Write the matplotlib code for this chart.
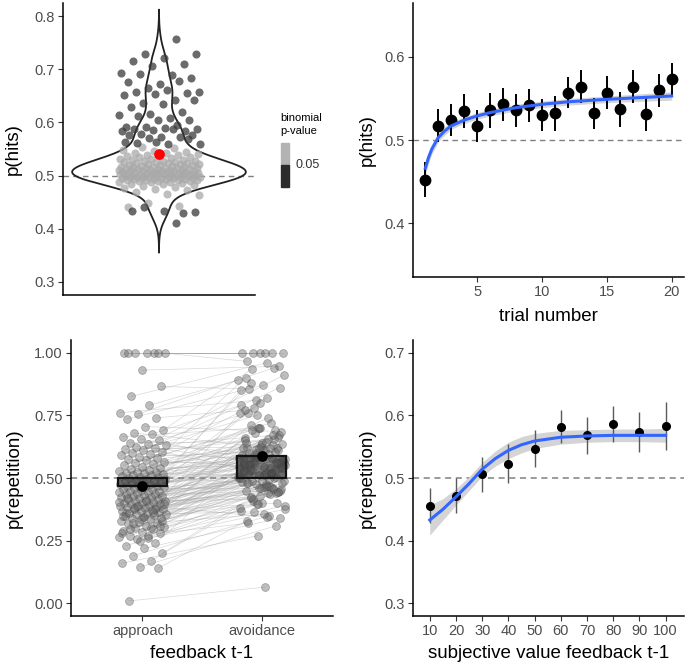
import matplotlib
matplotlib.use("Agg")
import matplotlib.pyplot as plt
import numpy as np
from matplotlib.patches import Rectangle

W, H = 685, 666
plt.rcParams['font.family'] = ['Liberation Sans', 'DejaVu Sans']

# --- top left: per-subject p(hits), split by binomial test ---
hits_sig = [0.757, 0.729, 0.729, 0.721, 0.716, 0.711, 0.707, 0.693, 0.690, 0.691,
            0.683, 0.673, 0.676, 0.679, 0.664, 0.658, 0.662, 0.657, 0.656, 0.653,
            0.651, 0.642, 0.636, 0.642, 0.634, 0.629, 0.620, 0.615, 0.614, 0.608,
            0.613, 0.604, 0.605, 0.592, 0.595, 0.592, 0.587, 0.590, 0.587, 0.584,
            0.586, 0.584, 0.588, 0.578, 0.577, 0.573, 0.577, 0.572, 0.570, 0.559,
            0.560, 0.562, 0.569, 0.564, 0.564, 0.411, 0.440, 0.431, 0.433, 0.433,
            0.430]
hits_ns = [0.441, 0.442, 0.448, 0.463, 0.466, 0.469, 0.472, 0.475, 0.477, 0.478, 0.481,
           0.482, 0.484, 0.485, 0.486, 0.487, 0.488, 0.488, 0.489, 0.490, 0.490,
           0.491, 0.491, 0.492, 0.492, 0.493, 0.493, 0.494, 0.494, 0.495, 0.495,
           0.495, 0.496, 0.496, 0.497, 0.497, 0.497, 0.498, 0.498, 0.498, 0.499,
           0.499, 0.500, 0.500, 0.500, 0.501, 0.501, 0.501, 0.502, 0.502, 0.502,
           0.503, 0.503, 0.503, 0.504, 0.504, 0.505, 0.505, 0.505, 0.506, 0.506,
           0.507, 0.507, 0.507, 0.508, 0.508, 0.509, 0.509, 0.510, 0.510, 0.510,
           0.511, 0.511, 0.512, 0.512, 0.513, 0.513, 0.514, 0.514, 0.515, 0.515,
           0.516, 0.516, 0.517, 0.517, 0.518, 0.518, 0.519, 0.520, 0.520, 0.521,
           0.521, 0.522, 0.523, 0.523, 0.524, 0.525, 0.525, 0.526, 0.527, 0.528,
           0.528, 0.529, 0.530, 0.531, 0.532, 0.533, 0.534, 0.535, 0.536, 0.537,
           0.538, 0.539, 0.540, 0.542, 0.543, 0.545, 0.547, 0.549, 0.551, 0.553]

# --- top right: p(hits) by trial ---
trial = list(range(1, 21))
trial_hits = [0.452, 0.517, 0.524, 0.535, 0.517, 0.536, 0.543, 0.536, 0.542, 0.530,
              0.532, 0.557, 0.564, 0.532, 0.557, 0.537, 0.564, 0.531, 0.560, 0.573]
trial_se = [0.021, 0.020, 0.019, 0.020, 0.019, 0.021, 0.020, 0.020, 0.020, 0.019,
            0.021, 0.019, 0.020, 0.019, 0.020, 0.021, 0.020, 0.020, 0.020, 0.020]
trial_fit_x = [1, 1.25, 1.5, 2, 2.5, 3, 4, 5, 6, 8, 10, 12, 15, 20]
trial_fit_y = [0.466, 0.479, 0.489, 0.503, 0.511, 0.517, 0.524, 0.529, 0.533, 0.539,
               0.543, 0.546, 0.549, 0.553]
trial_fit_se = [0.008, 0.007, 0.006, 0.005, 0.005, 0.004, 0.004, 0.004, 0.004, 0.004,
                0.004, 0.004, 0.004, 0.005]

# --- bottom left: p(repetition) per subject after approach / avoidance feedback ---
rep_approach = [0.010, 0.140, 0.145, 0.160, 0.170, 0.190, 0.200, 0.220, 0.230, 0.240,
                0.255, 0.265, 0.270, 0.270, 0.280, 0.285, 0.290, 0.295, 0.300, 0.305,
                0.310, 0.315, 0.320, 0.325, 0.330, 0.335, 0.340, 0.340, 0.345, 0.350,
                0.352, 0.355, 0.358, 0.360, 0.362, 0.365, 0.368, 0.370, 0.372, 0.375,
                0.378, 0.380, 0.383, 0.385, 0.388, 0.390, 0.392, 0.395, 0.398, 0.400,
                0.402, 0.405, 0.408, 0.410, 0.412, 0.415, 0.418, 0.420, 0.423, 0.425,
                0.428, 0.430, 0.433, 0.435, 0.438, 0.440, 0.443, 0.445, 0.448, 0.450,
                0.452, 0.455, 0.458, 0.460, 0.463, 0.465, 0.468, 0.470, 0.473, 0.475,
                0.478, 0.480, 0.483, 0.485, 0.488, 0.490, 0.493, 0.495, 0.498, 0.500,
                0.503, 0.505, 0.508, 0.510, 0.513, 0.515, 0.518, 0.520, 0.523, 0.525,
                0.528, 0.530, 0.535, 0.540, 0.545, 0.550, 0.555, 0.560, 0.565, 0.570,
                0.575, 0.580, 0.585, 0.590, 0.595, 0.600, 0.605, 0.610, 0.615, 0.620,
                0.625, 0.630, 0.635, 0.640, 0.650, 0.655, 0.665, 0.675, 0.680, 0.690,
                0.705, 0.735, 0.740, 0.755, 0.760, 0.790, 0.825, 0.865, 0.930, 1.000,
                1.000, 1.000, 1.000, 1.000, 1.000, 1.000,
                0.250, 0.280, 0.300, 0.320, 0.330, 0.345, 0.360, 0.375, 0.390, 0.405,
                0.260, 0.295, 0.310, 0.335, 0.350, 0.365, 0.380, 0.395, 0.410, 0.420]
rep_avoidance = [0.065, 0.330, 0.310, 0.270, 0.380, 0.350, 0.420, 0.340, 0.400, 0.550,
                 0.460, 0.560, 0.390, 0.470, 0.320, 0.610, 0.430, 0.370, 0.520, 0.410,
                 0.480, 0.355, 0.450, 0.690, 0.395, 0.500, 0.440, 0.580, 0.540, 0.460,
                 0.620, 0.580, 0.365, 0.490, 0.470, 0.620, 0.400, 0.510, 0.760, 0.435,
                 0.530, 0.455, 0.590, 0.660, 0.500, 0.475, 0.550, 0.345, 0.600, 0.445,
                 0.800, 0.485, 0.520, 0.415, 0.570, 0.465, 0.640, 0.505, 0.585, 0.545,
                 0.495, 0.710, 0.450, 0.590, 0.525, 0.630, 0.680, 0.560, 0.475, 0.515,
                 0.620, 0.460, 0.850, 0.540, 0.490, 0.575, 0.610, 0.650, 0.530, 0.600,
                 0.505, 0.740, 0.555, 0.670, 0.630, 0.585, 0.520, 0.780, 0.545, 0.610,
                 0.480, 0.565, 0.700, 0.535, 0.595, 0.880, 0.510, 0.640, 0.555, 0.655,
                 0.615, 0.575, 0.820, 0.550, 0.665, 0.700, 0.590, 0.720, 0.565, 0.635,
                 0.545, 0.900, 0.605, 0.750, 0.580, 0.655, 0.530, 0.860, 0.625, 0.570,
                 0.670, 0.595, 0.910, 0.645, 0.760, 0.560, 0.700, 0.790, 0.620, 0.935,
                 0.685, 0.870, 0.770, 0.940, 0.810, 0.890, 0.960, 0.855, 0.945, 1.000,
                 1.000, 1.000, 1.000, 1.000, 1.000, 0.965,
                 0.440, 0.395, 0.505, 0.470, 0.425, 0.560, 0.490, 0.530, 0.455, 0.585,
                 0.375, 0.520, 0.480, 0.445, 0.620, 0.500, 0.465, 0.690, 0.540, 0.510]
feedback_labels = ['approach', 'avoidance']

# --- bottom right: p(repetition) by subjective value of previous feedback ---
value_bins = [10, 20, 30, 40, 50, 60, 70, 80, 90, 100]
value_rep = [0.456, 0.472, 0.506, 0.523, 0.547, 0.582, 0.568, 0.586, 0.573, 0.583]
value_se = [0.028, 0.028, 0.028, 0.031, 0.030, 0.026, 0.030, 0.029, 0.032, 0.038]
value_fit_x = [10, 15, 20, 25, 30, 35, 40, 45, 50, 60, 70, 80, 90, 100]
value_fit_y = [0.433, 0.450, 0.470, 0.491, 0.514, 0.531, 0.544, 0.553, 0.559, 0.565,
               0.567, 0.568, 0.568, 0.568]
value_fit_se = [0.024, 0.017, 0.013, 0.011, 0.011, 0.012, 0.013, 0.013, 0.012, 0.011,
                0.010, 0.010, 0.010, 0.011]

BLUE = '#3366FF'
BAND = '#d4d4d4'
DASH = '#808080'

fig = plt.figure(figsize=(W / 100, H / 100), dpi=100)


def add_ax(l, t, r, b):
    return fig.add_axes([l / W, 1 - b / H, (r - l) / W, (b - t) / H])


def style(ax):
    for s in ['top', 'right']:
        ax.spines[s].set_visible(False)
    for s in ['left', 'bottom']:
        ax.spines[s].set_linewidth(1.1)
    ax.tick_params(color='#333333', labelcolor='#4d4d4d', labelsize=10.5,
                   length=3.5, width=0.8, pad=2.5)


def jitter(n, phase, spread):
    # evenly spread horizontal offsets (golden-ratio sequence)
    k = np.arange(n)
    return ((k * 0.6180339887 + phase) % 1.0 - 0.5) * 2 * spread


# ---------------- top left ----------------
ax1 = add_ax(63, 3, 255, 295)
style(ax1)
ax1.set_xlim(-1, 1)
ax1.set_ylim(0.275, 0.825)
ax1.set_xticks([])
ax1.set_yticks([0.3, 0.4, 0.5, 0.6, 0.7, 0.8])
ax1.axhline(0.5, color=DASH, lw=1, ls=(0, (4, 3)), zorder=1)

y_all = np.array(hits_sig + hits_ns)
bw = 0.0185
grid = np.linspace(y_all.min() - 3 * bw, y_all.max() + 3 * bw, 500)
dens = np.exp(-0.5 * ((grid[:, None] - y_all[None, :]) / bw) ** 2).sum(axis=1)
half = dens / dens.max() * 0.905
ax1.plot(np.r_[-half, half[::-1]], np.r_[grid, grid[::-1]], color='#222222', lw=1.3, zorder=2)

ax1.scatter(jitter(len(hits_ns), 0.13, 0.43), hits_ns, s=34, color='#a9a9a9',
            alpha=0.75, linewidths=0, zorder=3)
ax1.scatter(jitter(len(hits_sig), 0.71, 0.43), hits_sig, s=34, color='#3a3a3a',
            alpha=0.75, linewidths=0, zorder=3)
ax1.scatter([0], [y_all.mean()], s=45, color='red', zorder=5)
ax1.set_ylabel('p(hits)', fontsize=13.5, labelpad=9)

# binned legend
fig.text(280 / W, 1 - 118 / H, 'binomial', fontsize=8, va='center', ha='left')
fig.text(280 / W, 1 - 131 / H, 'p-value', fontsize=8, va='center', ha='left')
fig.patches.append(Rectangle((281 / W, 1 - 165 / H), 8 / W, 22 / H,
                             transform=fig.transFigure, color='#b3b3b3'))
fig.patches.append(Rectangle((281 / W, 1 - 187 / H), 8 / W, 22 / H,
                             transform=fig.transFigure, color='#2b2b2b'))
fig.text(296 / W, 1 - 165 / H, '0.05', fontsize=9, va='center', ha='left', color='#333333')

# ---------------- top right ----------------
ax2 = add_ax(413, 3, 684, 277)
style(ax2)
ax2.set_xlim(0.05, 20.95)
ax2.set_ylim(0.335, 0.665)
ax2.set_xticks([5, 10, 15, 20])
ax2.set_yticks([0.4, 0.5, 0.6])
ax2.axhline(0.5, color=DASH, lw=1, ls=(0, (4, 3)), zorder=1)
fx = np.array(trial_fit_x)
fy = np.array(trial_fit_y)
fs = np.array(trial_fit_se)
ax2.fill_between(fx, fy - fs, fy + fs, color=BAND, lw=0, zorder=2)
ax2.errorbar(trial, trial_hits, yerr=trial_se, fmt='o', color='black', ms=7.5,
             elinewidth=1.4, capsize=0, zorder=3)
ax2.plot(fx, fy, color=BLUE, lw=2.2, zorder=4)
ax2.set_ylabel('p(hits)', fontsize=13.5, labelpad=6)
ax2.set_xlabel('trial number', fontsize=13.5, labelpad=6)

# ---------------- bottom left ----------------
ax3 = add_ax(71, 340, 333, 616)
style(ax3)
ax3.set_xlim(0.4, 2.6)
ax3.set_ylim(-0.05, 1.05)
ax3.set_yticks([0, 0.25, 0.5, 0.75, 1.0])
ax3.set_yticklabels(['0.00', '0.25', '0.50', '0.75', '1.00'])
ax3.set_xticks([1, 2])
ax3.set_xticklabels(feedback_labels)
app = np.array(rep_approach)
avo = np.array(rep_avoidance)
x_app = 1 + jitter(len(app), 0.21, 0.2)
x_avo = 2 + jitter(len(avo), 0.57, 0.2)
for xa, ya, xb, yb in zip(x_app, app, x_avo, avo):
    ax3.plot([xa, xb], [ya, yb], color='#a0a0a0', lw=0.5, alpha=0.4, zorder=1)
ax3.axhline(0.5, color=DASH, lw=1.1, ls=(0, (4, 3)), zorder=2)
ax3.scatter(x_app, app, s=32, facecolor=(0.4, 0.4, 0.4, 0.42),
            edgecolor=(0.3, 0.3, 0.3, 0.4), linewidths=0.6, zorder=3)
ax3.scatter(x_avo, avo, s=32, facecolor=(0.4, 0.4, 0.4, 0.42),
            edgecolor=(0.3, 0.3, 0.3, 0.4), linewidths=0.6, zorder=3)
means = [app.mean(), avo.mean()]
ax3.bar([1, 2], [m - 0.5 for m in means], bottom=0.5, width=0.41,
        color=(0.22, 0.22, 0.22, 0.62), edgecolor='#111111', linewidth=1.6, zorder=4)
ax3.scatter([1, 2], means, s=45, color='black', zorder=5)
ax3.set_ylabel('p(repetition)', fontsize=13.5, labelpad=8)
ax3.set_xlabel('feedback t-1', fontsize=13.5, labelpad=5)

# ---------------- bottom right ----------------
ax4 = add_ax(413, 340, 684, 616)
style(ax4)
ax4.set_xlim(3.6, 107)
ax4.set_ylim(0.28, 0.72)
ax4.set_xticks(value_bins)
ax4.set_yticks([0.3, 0.4, 0.5, 0.6, 0.7])
ax4.axhline(0.5, color=DASH, lw=1.1, ls=(0, (4, 3)), zorder=1)
vx = np.array(value_fit_x)
vy = np.array(value_fit_y)
vs = np.array(value_fit_se)
ax4.fill_between(vx, vy - vs, vy + vs, color=BAND, lw=0, zorder=2)
ax4.errorbar(value_bins, value_rep, yerr=value_se, fmt='o', color='black', ms=5.5,
             ecolor='#5a5a5a', elinewidth=1.0, capsize=0, zorder=3)
ax4.plot(vx, vy, color=BLUE, lw=2.2, zorder=4)
ax4.set_ylabel('p(repetition)', fontsize=13.5, labelpad=6)
ax4.set_xlabel('subjective value feedback t-1', fontsize=13.5, labelpad=5)

fig.savefig('out.png', dpi=100)
